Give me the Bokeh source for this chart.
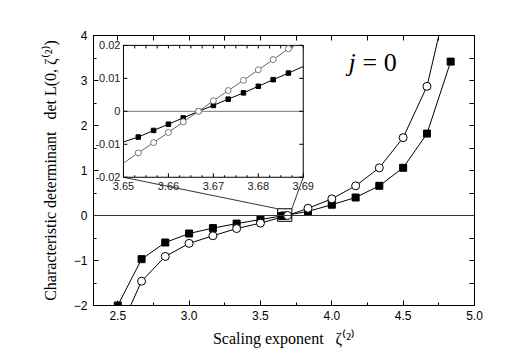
import numpy as np
from bokeh.plotting import figure
from bokeh.models import (LinearAxis, SingleIntervalTicker, FixedTicker, PrintfTickFormatter,
                          Span, Label, Range1d)
from bokeh.core.properties import value
from bokeh.embed import file_html
from bokeh.resources import INLINE

# ---------------- data ----------------
sq_x = [2.5, 2.667, 2.833, 3.0, 3.167, 3.333, 3.5, 3.65, 3.667, 3.833, 4.0, 4.167, 4.333, 4.5, 4.667, 4.833]
sq_y = [-2.0, -0.97, -0.6, -0.4, -0.28, -0.18, -0.09, -0.01, 0.0, 0.09, 0.24, 0.4, 0.66, 1.06, 1.82, 3.42]

circ_x = [2.667, 2.833, 3.0, 3.167, 3.333, 3.5, 3.69, 3.833, 4.0, 4.167, 4.333, 4.5, 4.667]
circ_y = [-1.46, -0.91, -0.62, -0.45, -0.29, -0.17, 0.0, 0.16, 0.37, 0.66, 1.06, 1.73, 2.87]
circ_line_x = [2.59] + circ_x + [4.75]
circ_line_y = [-2.0] + circ_y + [4.0]

# inset (zoom of the crossing)
isq_x = [3.6533, 3.6567, 3.66, 3.6633, 3.6667, 3.67, 3.6733, 3.6767, 3.68, 3.6833, 3.6867]
isq_y = [-0.0078, -0.0058, -0.0039, -0.0020, 0.0, 0.0018, 0.0037, 0.0056, 0.0076, 0.0096, 0.0116]
isq_line_x = [3.65] + isq_x + [3.69]
isq_line_y = [-0.0093] + isq_y + [0.0136]

icirc_x = [3.6533, 3.6567, 3.66, 3.6633, 3.6667, 3.67, 3.6733, 3.6767, 3.68, 3.6833, 3.6867]
icirc_y = [-0.0126, -0.0095, -0.0064, -0.0032, 0.0, 0.0032, 0.0063, 0.0094, 0.0126, 0.0157, 0.0190]
icirc_line_x = [3.65] + icirc_x + [3.6882]
icirc_line_y = [-0.0157] + icirc_y + [0.02]

box_x = [3.62, 3.72]
box_y = [-0.13, 0.15]

x_minor_main = [2.5, 2.75, 3.0, 3.25, 3.5, 3.75, 4.0, 4.25, 4.5, 4.75, 5.0]
y_minor_main = [-2, -1.5, -1, -0.5, 0, 0.5, 1, 1.5, 2, 2.5, 3, 3.5, 4]

inset_x_range = (3.65, 3.69)
inset_y_range = (-0.02, 0.02)
x_ticks_inset = [3.65, 3.66, 3.67, 3.68, 3.69]
x_labels_inset = ["3.65", "3.66", "3.67", "3.68", "3.69"]
x_minor_inset = [3.6525, 3.655, 3.6575, 3.6625, 3.665, 3.6675, 3.6725, 3.675, 3.6775,
                 3.6825, 3.685, 3.6875]
y_ticks_inset = [-0.02, -0.01, 0.0, 0.01, 0.02]
y_labels_inset = ["-0.02", "-0.01", "0", "0.01", "0.02"]

# ---------------- layout ----------------
W, H = 503, 352
ML, MR, MT, MB = 93, 29, 35, 47
XS, XE, YS, YE = 2.33, 5.0, -2.0, 4.0

# where the inset frame sits, in main data coordinates
ix0, ix1, iy0, iy1 = 2.54, 3.80, 0.85, 3.78

SERIF = "Liberation Serif"
SANS = "Liberation Sans"
NB = "\u00a0"

p = figure(width=W, height=H, x_range=(XS, XE), y_range=(YS, YE),
           output_backend="svg", toolbar_location=None,
           min_border_left=ML, min_border_right=MR, min_border_top=MT, min_border_bottom=MB,
           x_axis_location=None, y_axis_location=None)
p.grid.visible = False
p.outline_line_color = "black"
p.background_fill_color = "white"


def style_axis(ax, tin=5, tmin=3, size="12px", standoff=5):
    ax.major_tick_in = tin
    ax.major_tick_out = 0
    ax.minor_tick_in = tmin
    ax.minor_tick_out = 0
    ax.axis_line_color = "black"
    ax.major_tick_line_color = "black"
    ax.minor_tick_line_color = "black"
    ax.major_label_text_font = SANS
    ax.major_label_text_font_size = size
    ax.major_label_text_color = "black"
    ax.major_label_standoff = standoff
    ax.axis_label_text_color = "black"


xb = LinearAxis(ticker=SingleIntervalTicker(interval=0.5, num_minor_ticks=2),
                formatter=PrintfTickFormatter(format="%.1f"))
style_axis(xb)
xb.axis_label = "Scaling exponent" + NB * 3 + "ζ⁽²⁾"
xb.axis_label_text_font = SERIF
xb.axis_label_text_font_size = "16px"
xb.axis_label_text_font_style = "normal"
xb.axis_label_standoff = 7
p.add_layout(xb, "below")

xt = LinearAxis(ticker=FixedTicker(ticks=[], minor_ticks=x_minor_main))
style_axis(xt, tmin=5)
p.add_layout(xt, "above")

yl = LinearAxis(ticker=SingleIntervalTicker(interval=1, num_minor_ticks=2))
style_axis(yl, standoff=6)
yl.axis_label = "Characteristic determinant" + NB * 3 + "det L(0, ζ⁽²⁾)"
yl.axis_label_text_font = SERIF
yl.axis_label_text_font_size = "16px"
yl.axis_label_text_font_style = "normal"
yl.axis_label_standoff = 12
p.add_layout(yl, "left")

yr = LinearAxis(ticker=FixedTicker(ticks=[], minor_ticks=y_minor_main))
style_axis(yr, tmin=5)
p.add_layout(yr, "right")

p.add_layout(Span(location=0, dimension="width", line_color="#333333", line_width=1))

# main curves
p.line(sq_x, sq_y, line_color="black", line_width=1)
p.line(circ_line_x, circ_line_y, line_color="black", line_width=1)
p.scatter(sq_x, sq_y, marker="square", size=7, fill_color="black", line_color="black")
p.scatter(circ_x, circ_y, marker="circle", size=8, fill_color="white", line_color="black", line_width=1)

# zoom box and connecting lines
p.segment(x0=[ix0, ix1], y0=[iy0, iy0], x1=[box_x[0], box_x[1]], y1=[box_y[1], box_y[1]],
          line_color="#333333", line_width=1)
p.quad(left=[box_x[0]], right=[box_x[1]], bottom=[box_y[0]], top=[box_y[1]],
       fill_alpha=0, line_color="black", line_width=1)

p.add_layout(Label(x=4.117, y=3.40, text="j", text_font=SERIF, text_font_size="26px",
                   text_font_style="italic", text_color="black", text_baseline="alphabetic"))
p.add_layout(Label(x=4.117, y=3.40, x_offset=14, text="= 0", text_font=SERIF, text_font_size="26px",
                   text_color="black", text_baseline="alphabetic"))

# ---------------- inset: own scales mapped into the region [ix0,ix1]x[iy0,iy1] ----------------
ax0, ax1 = inset_x_range
ay0, ay1 = inset_y_range


def map_x(x):
    return ax0 + (x - ix0) / (ix1 - ix0) * (ax1 - ax0)


def map_y(y):
    return ay0 + (y - iy0) / (iy1 - iy0) * (ay1 - ay0)


p.extra_x_ranges = {"ix": Range1d(map_x(XS), map_x(XE))}
p.extra_y_ranges = {"iy": Range1d(map_y(YS), map_y(YE))}
kw = dict(x_range_name="ix", y_range_name="iy")

p.quad(left=[ax0], right=[ax1], bottom=[ay0], top=[ay1], fill_color="white",
       line_color="black", line_width=1, **kw)
p.segment(x0=[ax0], x1=[ax1], y0=[0.0], y1=[0.0], line_color="#777777", line_width=1, **kw)

# inset ticks (inward)
n = len(x_ticks_inset)
p.ray(x=x_ticks_inset, y=[ay0] * n, length=4, length_units="screen", angle=np.pi / 2,
      line_color="black", line_width=1, **kw)
p.ray(x=x_minor_inset, y=[ay0] * len(x_minor_inset), length=2, length_units="screen",
      angle=np.pi / 2, line_color="black", line_width=1, **kw)
p.ray(x=x_ticks_inset + x_minor_inset, y=[ay1] * (n + len(x_minor_inset)), length=3,
      length_units="screen", angle=-np.pi / 2, line_color="black", line_width=1, **kw)
m = len(y_ticks_inset)
p.ray(x=[ax0] * m, y=y_ticks_inset, length=4, length_units="screen", angle=0,
      line_color="black", line_width=1, **kw)
p.ray(x=[ax1] * m, y=y_ticks_inset, length=4, length_units="screen", angle=np.pi,
      line_color="black", line_width=1, **kw)

# inset tick labels
p.text(x=x_ticks_inset, y=[ay0] * n, text=x_labels_inset, x_offset=0, y_offset=5,
       text_align="center", text_baseline="top", text_font=value(SANS),
       text_font_size="11px", text_color="#222222", **kw)
p.text(x=[ax0] * m, y=y_ticks_inset, text=y_labels_inset, x_offset=-3, y_offset=0,
       text_align="right", text_baseline="middle", text_font=value(SANS),
       text_font_size="11px", text_color="#222222", **kw)

# inset curves
p.line(isq_line_x, isq_line_y, line_color="black", line_width=1, **kw)
p.line(icirc_line_x, icirc_line_y, line_color="#666666", line_width=1, **kw)
p.scatter(isq_x, isq_y, marker="square", size=4.5, fill_color="black", line_color="black", **kw)
p.scatter(icirc_x, icirc_y, marker="circle", size=6, fill_color="white", line_color="#777777",
          line_width=1, **kw)

open("out.html", "w").write(file_html(p, INLINE))
